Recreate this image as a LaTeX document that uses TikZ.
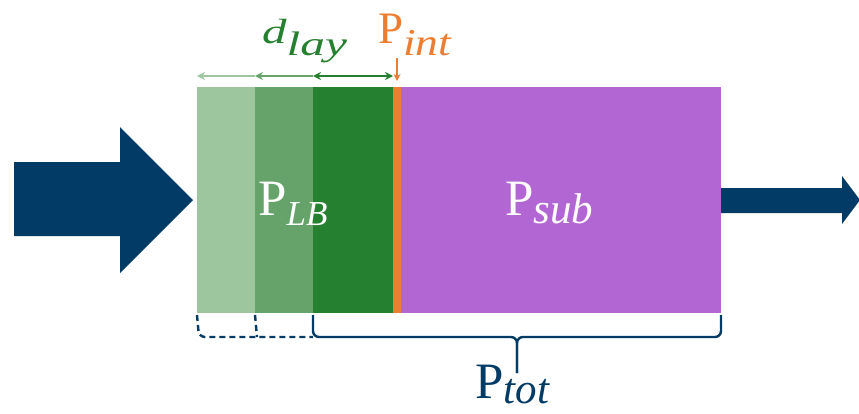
\documentclass[tikz,border=0pt]{standalone}
\usepackage{fontspec}
\setmainfont{Liberation Serif}
\usetikzlibrary{arrows.meta}
\definecolor{navy}{RGB}{2,59,102}
\definecolor{glight}{RGB}{158,198,158}
\definecolor{gmed}{RGB}{101,163,106}
\definecolor{gdark}{RGB}{37,128,47}
\definecolor{orng}{RGB}{237,125,49}
\definecolor{purp}{RGB}{178,102,211}
% #1 size, #2 horizontal stretch, #3 drop, #4 text
\newcommand{\sbs}[4]{\raisebox{-#3pt}{\fontsize{#1}{#1}\selectfont\scalebox{#2}[1]{\itshape #4}}}
\tikzset{
  lbl/.style={inner sep=0pt, anchor=base west},
  dimarrow/.style={line width=2.5pt, arrows={-Stealth[length=8pt,width=8pt]}},
  bracket/.style={navy, line width=2.4pt, rounded corners=6pt},
}
\begin{document}
\begin{tikzpicture}[x=1pt,y=-1pt]
\useasboundingbox (0,0) rectangle (859,413);
% input arrow
\fill[navy] (14,162) -- (120,162) -- (120,127) -- (193,200) -- (120,273) -- (120,236) -- (14,236) -- cycle;
% output arrow
\fill[navy] (721,188) -- (842,188) -- (842,176) -- (860,200) -- (842,224) -- (842,213) -- (721,213) -- cycle;
% layers
\fill[glight] (197,87) rectangle (255,313);
\fill[gmed] (255,87) rectangle (313,313);
\fill[gdark] (313,87) rectangle (393,313);
\fill[orng] (393,87) rectangle (401,313);
\fill[purp] (401,87) rectangle (721,313);
% top dimension arrows
\coordinate (t0) at (197,76);
\coordinate (t1) at (255,76);
\coordinate (t2) at (313,76);
\coordinate (t3) at (393,76);
\draw[dimarrow, glight] (t1) -- (t0);
\draw[dimarrow, gmed] (t2) -- (t1);
\draw[dimarrow, gdark, arrows={Stealth[length=8pt,width=8pt]-Stealth[length=8pt,width=8pt]}] (t2) -- (t3);
\coordinate (o0) at (397,58);
\coordinate (o1) at (397,81);
\draw[orng, line width=2.2pt, arrows={-Stealth[length=7pt,width=7pt]}] (o0) -- (o1);
% labels
\node[lbl, gdark, font=\fontsize{35}{38}\selectfont] (dlay) at (262,43) {\scalebox{1.4}[1]{\itshape d}\sbs{34}{1.45}{12}{lay}};
\node[lbl, orng, font=\fontsize{45}{48}\selectfont] (pint) at (378,43) {P\sbs{38}{1.2}{12}{int}};
\node[lbl, white, font=\fontsize{51}{56}\selectfont] (plb) at (258,215) {P\sbs{35}{1}{10}{LB}};
\node[lbl, white, font=\fontsize{51}{56}\selectfont] (psub) at (505,215) {P\sbs{43}{1}{8}{sub}};
\node[lbl, navy, font=\fontsize{51}{56}\selectfont] (ptot) at (475,398) {P\sbs{43}{1}{5}{tot}};
% bottom brackets
\draw[bracket, dashed, dash pattern=on 6pt off 4pt] (197,315) -- (199,337) -- (313,337);
\draw[bracket, dashed, dash pattern=on 6pt off 4pt] (255,315) -- (257,337);
\coordinate (b0) at (313,315);
\coordinate (b1) at (721,315);
\coordinate (bm) at (517,337);
\coordinate (bt) at (517,373);
\draw[bracket] (b0) -- (313,337) -- (bm) -- (bt);
\draw[bracket] (b1) -- (721,337) -- (bm) -- (bt);
\end{tikzpicture}
\end{document}
